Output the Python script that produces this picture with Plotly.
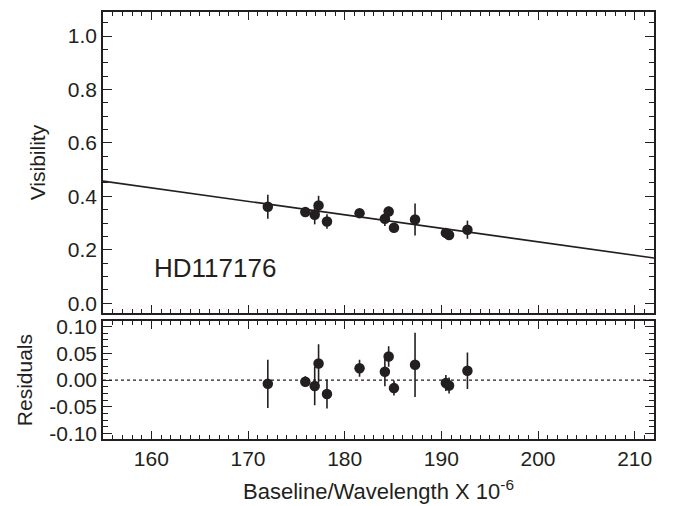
import plotly.graph_objects as go

# ---- data ----
baseline = [172.05, 175.93, 176.9, 177.3, 178.17, 181.54, 184.16, 184.55, 185.1, 187.28, 190.47, 190.8, 192.7]
visibility = [0.361, 0.341, 0.331, 0.366, 0.306, 0.337, 0.316, 0.343, 0.282, 0.313, 0.263, 0.255, 0.275]
vis_err = [0.045, 0.010, 0.036, 0.036, 0.027, 0.016, 0.027, 0.019, 0.014, 0.060, 0.015, 0.015, 0.034]
residuals = [-0.007, -0.003, -0.011, 0.031, -0.026, 0.022, 0.0155, 0.044, -0.015, 0.0285, -0.0055, -0.010, 0.0174]
model_x = [155, 212]
model_y = [0.457, 0.169]
zero_x = [155, 212]
zero_y = [0.0, 0.0]
vis_ticks = [0.0, 0.2, 0.4, 0.6, 0.8, 1.0]
vis_labels = ["0.0", "0.2", "0.4", "0.6", "0.8", "1.0"]
res_ticks = [-0.10, -0.05, 0.0, 0.05, 0.10]
res_labels = ["-0.10", "-0.05", "0.00", "0.05", "0.10"]
x_ticks = [160, 170, 180, 190, 200, 210]
star = "HD117176"

INK = "#231f20"
FONT = "Liberation Sans, Arial, sans-serif"

fig = go.Figure()

fig.add_trace(go.Scatter(x=model_x, y=model_y, mode="lines",
                         line=dict(color=INK, width=1.6),
                         xaxis="x", yaxis="y", showlegend=False))
fig.add_trace(go.Scatter(x=baseline, y=visibility, mode="markers",
                         marker=dict(color=INK, size=10.5),
                         error_y=dict(type="data", array=vis_err, color=INK, thickness=1.6, width=0),
                         xaxis="x", yaxis="y", showlegend=False))
fig.add_trace(go.Scatter(x=zero_x, y=zero_y, mode="lines",
                         line=dict(color=INK, width=1.4, dash="dot"),
                         xaxis="x2", yaxis="y2", showlegend=False))
fig.add_trace(go.Scatter(x=baseline, y=residuals, mode="markers",
                         marker=dict(color=INK, size=10.5),
                         error_y=dict(type="data", array=vis_err, color=INK, thickness=1.6, width=0),
                         xaxis="x2", yaxis="y2", showlegend=False))

common = dict(showline=True, linecolor=INK, linewidth=1.5, mirror="ticks",
              ticks="inside", tickcolor=INK, tickwidth=1.2, showgrid=False,
              zeroline=False, tickfont=dict(family=FONT, size=21, color=INK))

fig.update_layout(
    width=680, height=506,
    margin=dict(l=103, r=26, t=6, b=62),
    paper_bgcolor="white", plot_bgcolor="white",
    font=dict(family=FONT, color=INK),
    xaxis=dict(domain=[0, 1], range=[155, 212], tickvals=x_ticks, showticklabels=False,
               ticklen=8, minor=dict(dtick=1, ticklen=4, ticks="inside", tickcolor=INK),
               anchor="y", **common),
    yaxis=dict(domain=[0.295, 1], range=[-0.037, 1.09], tickvals=vis_ticks, ticktext=vis_labels,
               ticklen=9,
               minor=dict(dtick=0.05, ticklen=5, ticks="inside", tickcolor=INK),
               title=dict(text="Visibility", font=dict(family=FONT, size=21, color=INK), standoff=16),
               anchor="x", **common),
    xaxis2=dict(domain=[0, 1], range=[155, 212], tickvals=x_ticks, ticklen=8,
                minor=dict(dtick=1, ticklen=4, ticks="inside", tickcolor=INK),
                title=dict(text="Baseline/Wavelength X 10<sup>-6</sup>",
                           font=dict(family=FONT, size=22, color=INK), standoff=15),
                anchor="y2", **common),
    yaxis2=dict(domain=[0, 0.276], range=[-0.11, 0.11], tickvals=res_ticks, ticktext=res_labels,
                ticklen=9,
                minor=dict(dtick=0.0125, ticklen=5, ticks="inside", tickcolor=INK),
                title=dict(text="Residuals", font=dict(family=FONT, size=21, color=INK), standoff=11),
                anchor="x2", **common),
    annotations=[dict(text=star, x=166.6, y=0.131, xref="x", yref="y", showarrow=False,
                      font=dict(family=FONT, size=26, color=INK))],
)

fig.write_html("out.html")
